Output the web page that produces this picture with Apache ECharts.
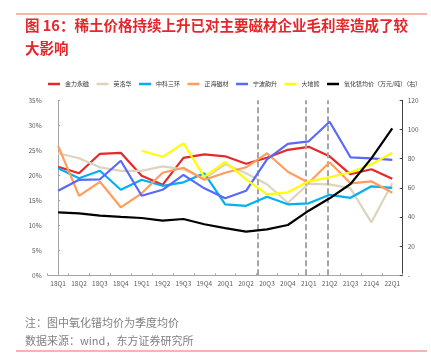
<!DOCTYPE html>
<html>
<head>
<meta charset="utf-8">
<script src="https://cdn.jsdelivr.net/npm/echarts@6/dist/echarts.min.js"></script>
<style>
html,body{margin:0;padding:0;background:#fff;}
#chart{width:431px;height:357px;}
</style>
</head>
<body>
<div id="chart"></div>
<script>
var categories = ['18Q1','18Q2','18Q3','18Q4','19Q1','19Q2','19Q3','19Q4','20Q1','20Q2','20Q3','20Q4','21Q1','21Q2','21Q3','21Q4','22Q1'];
var jinliYongci = [21.7,20.4,24.3,24.5,19.9,18.1,23.5,24.2,23.8,22.3,23.5,25.1,25.7,23.8,20.2,21.2,19.3];
var yingluohua = [24.4,23.4,21.6,20.9,20.9,21.8,21.2,19.3,22.2,20.4,18.2,14.5,18.3,18.2,17.4,10.6,18.4];
var zhongkeSanhuan = [21.4,19.4,20.9,17.1,19.1,17.9,18.6,20.4,14.2,13.9,15.7,14.2,14.4,16.1,15.5,17.8,17.5];
var zhenghaiCicai = [25.9,15.9,18.7,13.6,16.4,20.5,21.5,19.1,20.5,21.6,24.4,20.7,18.5,22.6,18.4,18.8,16.5];
var ningboYunsheng = [16.9,19.1,19.2,22.9,15.9,17.1,20.1,17.4,15.4,16.9,23.2,26.3,26.8,30.7,23.6,23.4,23.1];
var dadixiong = [null,null,null,null,24.9,23.7,26.4,19.7,22.7,19.2,16.2,16.6,18.8,19.6,20.6,22.2,24.5];
var prPrice = [43.2,42.5,40.9,40.0,39.3,37.5,38.6,35.0,32.3,29.9,31.5,34.5,44.3,52.8,62.6,80.2,100.8];
var leftTicks = [0,5,10,15,20,25,30,35];
var rightTicks = [0,20,40,60,80,100,120];
var dividerPositions = [9.56, 11.86, 12.93];

var names = ['金力永磁','英洛华','中科三环','正海磁材','宁波韵升','大地熊','氧化镨均价（万元/吨）（右）'];
var colors = ['#e5282a','#ddd3bf','#00b0f0','#ff9d5c','#5969f8','#ffff00','#000000'];
var dataSets = [jinliYongci, yingluohua, zhongkeSanhuan, zhenghaiCicai, ningboYunsheng, dadixiong, prPrice];

var FONT = '"Noto Sans CJK SC", "Noto Sans", sans-serif';
var chart = echarts.init(document.getElementById('chart'), null, {renderer:'canvas'});

var series = dataSets.map(function(d, i){
  return {
    name: names[i],
    type: 'line',
    data: d,
    xAxisIndex: 0,
    yAxisIndex: i === 6 ? 1 : 0,
    symbol: 'none',
    smooth: false,
    connectNulls: false,
    lineStyle: {color: colors[i], width: 2.2},
    itemStyle: {color: colors[i]},
    z: 3 + i
  };
});
series.push({
  name: 'dividers',
  type: 'line',
  xAxisIndex: 1,
  yAxisIndex: 0,
  data: [],
  silent: true,
  markLine: {
    silent: true,
    symbol: ['none','none'],
    label: {show: false},
    lineStyle: {color: '#a6a6a6', width: 2, type: [6,3]},
    data: dividerPositions.map(function(p){ return {xAxis: p}; })
  },
  z: 2
});

var option = {
  animation: false,
  backgroundColor: '#ffffff',
  textStyle: {fontFamily: FONT},
  title: [{
    text: '图 16：稀土价格持续上升已对主要磁材企业毛利率造成了较\n大影响',
    left: 25, top: 14,
    padding: 0,
    textStyle: {color: '#e5262b', fontSize: 14.5, fontWeight: 'bold', fontFamily: FONT, lineHeight: 23}
  },{
    text: '注：图中氧化镨均价为季度均价\n数据来源：wind，东方证券研究所',
    left: 25, top: 314,
    padding: 0,
    textStyle: {color: '#808080', fontSize: 11, fontWeight: 'normal', fontFamily: FONT, lineHeight: 18}
  }],
  graphic: [
    {type:'line', shape:{x1:16,y1:14,x2:427,y2:14}, style:{stroke:'#ec6b5e', lineWidth:1.2}},
    {type:'line', shape:{x1:16,y1:351,x2:427,y2:351}, style:{stroke:'#ec6b5e', lineWidth:1.2}}
  ],
  legend: {
    data: names,
    top: 81, left: 48,
    itemWidth: 12, itemHeight: 2.5,
    itemGap: 7.5,
    icon: 'rect',
    padding: 0,
    textStyle: {fontSize: 6, color: '#333', fontFamily: FONT}
  },
  grid: {left: 47.7, right: 28.3, top: 100.3, bottom: 81.7, containLabel: false},
  xAxis: [{
    type: 'category',
    data: categories,
    boundaryGap: true,
    axisLine: {lineStyle: {color: '#a6a6a6', width: 1}},
    axisTick: {show: true, inside: true, length: 2, lineStyle: {color: '#a6a6a6'}},
    axisLabel: {fontSize: 6.5, color: '#595959', margin: 5, interval: 0, fontFamily: FONT},
    splitLine: {show: false}
  },{
    type: 'value',
    min: -0.5, max: 16.5,
    show: false,
    splitLine: {show: false}
  }],
  yAxis: [{
    type: 'value',
    min: 0, max: 35, interval: 5,
    axisLine: {show: true, lineStyle: {color: '#a6a6a6', width: 1}},
    axisTick: {show: true, inside: true, length: 2, lineStyle: {color: '#a6a6a6'}},
    axisLabel: {fontSize: 6.5, color: '#595959', margin: 6, formatter: function(v){ return v + '%'; }, fontFamily: FONT},
    splitLine: {show: false}
  },{
    type: 'value',
    min: 0, max: 120, interval: 20,
    position: 'right',
    axisLine: {show: true, lineStyle: {color: '#404040', width: 1}},
    axisTick: {show: true, inside: true, length: 3, lineStyle: {color: '#404040'}},
    axisLabel: {fontSize: 6.5, color: '#595959', margin: 5, formatter: function(v){ return v === 0 ? '-' : String(v); }, fontFamily: FONT},
    splitLine: {show: false}
  }],
  series: series
};
chart.setOption(option);
</script>
</body>
</html>
